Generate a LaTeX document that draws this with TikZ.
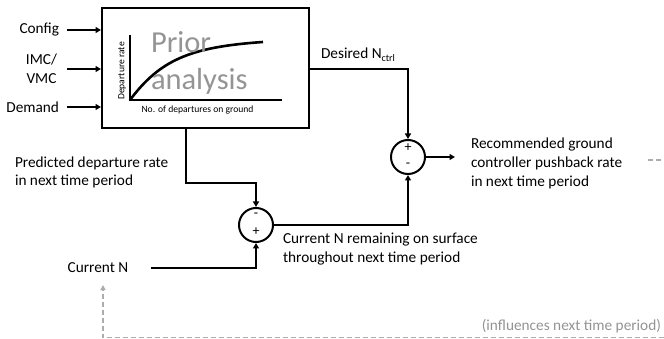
\documentclass[tikz,border=0pt]{standalone}
\usepackage{fontspec}
\setmainfont{Carlito}
\usetikzlibrary{arrows.meta}
\begin{document}
\begin{tikzpicture}[x=1pt,y=-1pt,line width=2pt,
  every node/.style={font=\fontsize{15.3}{18.8}\selectfont,inner sep=0pt},
  arr/.style={-{Triangle[length=5.5pt,width=6pt]}},
  sumnode/.style={circle,draw,line width=2pt,minimum size=34pt},
  sign/.style={font=\fontsize{14}{14}\selectfont},
  small/.style={font=\fontsize{9.6}{11}\selectfont},
  bigtext/.style={anchor=base west,text=black!42,font=\fontsize{30.5}{30}\selectfont},
  fb/.style={draw=gray!65,line width=1.3pt,dash pattern=on 5pt off 3pt},
  fbarr/.style={-{Triangle[length=5pt,width=5pt]}}]
\useasboundingbox (0,0) rectangle (664,339);

% main box
\node[draw,line width=2pt,minimum width=207pt,minimum height=120pt] (box) at (205.5,68) {};

% inputs
\node[anchor=east] (cfg) at (60,30) {Config};
\node[anchor=east,align=center] (imc) at (58,69) {IMC/\\VMC};
\node[anchor=east] (dem) at (60,107) {Demand};
\coordinate (ax) at (67,0);
\draw[arr] (cfg.east -| ax) -- (cfg.east -| box.west);
\draw[arr] (imc.east -| ax) -- (imc.east -| box.west);
\draw[arr] (dem.east -| ax) -- (dem.east -| box.west);

% plot inside the box
\coordinate (o) at (130,100);
\coordinate (ytop) at (130,35);
\coordinate (xend) at (282,100);
\draw[line width=2.5pt] (ytop) -- (o) -- (xend);
\coordinate (cend) at (263,42);
\draw[line width=2.6pt] (o) .. controls (160,60) and (190,47) .. (cend);
\node[small,rotate=90] (ylab) at (122,71) {Departure rate};
\node[small] (xlab) at (197.5,110) {No. of departures on ground};

% Prior analysis
\node[bigtext] (prior) at (150,53) {Prior};
\node[bigtext] (anal) at (150,90) {analysis};

% summing junctions
\node[sumnode] (s1) at (256,225) {};
\node[sign] (s1m) at (256,215) {-};
\node[sign] (s1p) at (256,232) {+};
\node[sumnode] (s2) at (408,157) {};
\node[sign] (s2p) at (408,148) {+};
\node[sign] (s2m) at (408,165.5) {-};

% connectors
\coordinate (bx) at (186,183);
\draw[arr] (box.south -| bx) -- (bx) -| (s1.north);
\node (cn) at (98,268) {Current N};
\draw[arr] ([xshift=22pt]cn.east) -| (s1.south);
\draw[arr] (s1.east) -| (s2.south);
\coordinate (dy) at (310,69);
\draw[arr] (box.east |- dy) -| (s2.north);
\node[anchor=base west] (des) at (320,59) {Desired N{\fontsize{10}{10}\selectfont\raisebox{-3pt}{ctrl}}};

% labels
\node[anchor=west,align=left] (pred) at (14,172.5) {Predicted departure rate\\in next time period};
\node[anchor=west,align=left] (rem) at (282,249) {Current N remaining on surface\\throughout next time period};
\node[anchor=west,align=left] (rec) at (470,163.5) {Recommended ground\\controller pushback rate\\in next time period};
\draw[arr] (s2.east) -- ([xshift=-15pt]s2.east -| rec.west);

% feedback (dashed, gray)
\coordinate (fbs) at (648,160);
\coordinate (fbe) at (664,160);
\draw[fb] (fbs) -- (fbe);
\node[anchor=east,text=gray!85] (infl) at (662,326) {(influences next time period)};
\coordinate (fbb) at (664,337.5);
\coordinate (fbt) at (103,285);
\draw[fb,fbarr] (fbb) -| (fbt);
\end{tikzpicture}
\end{document}
